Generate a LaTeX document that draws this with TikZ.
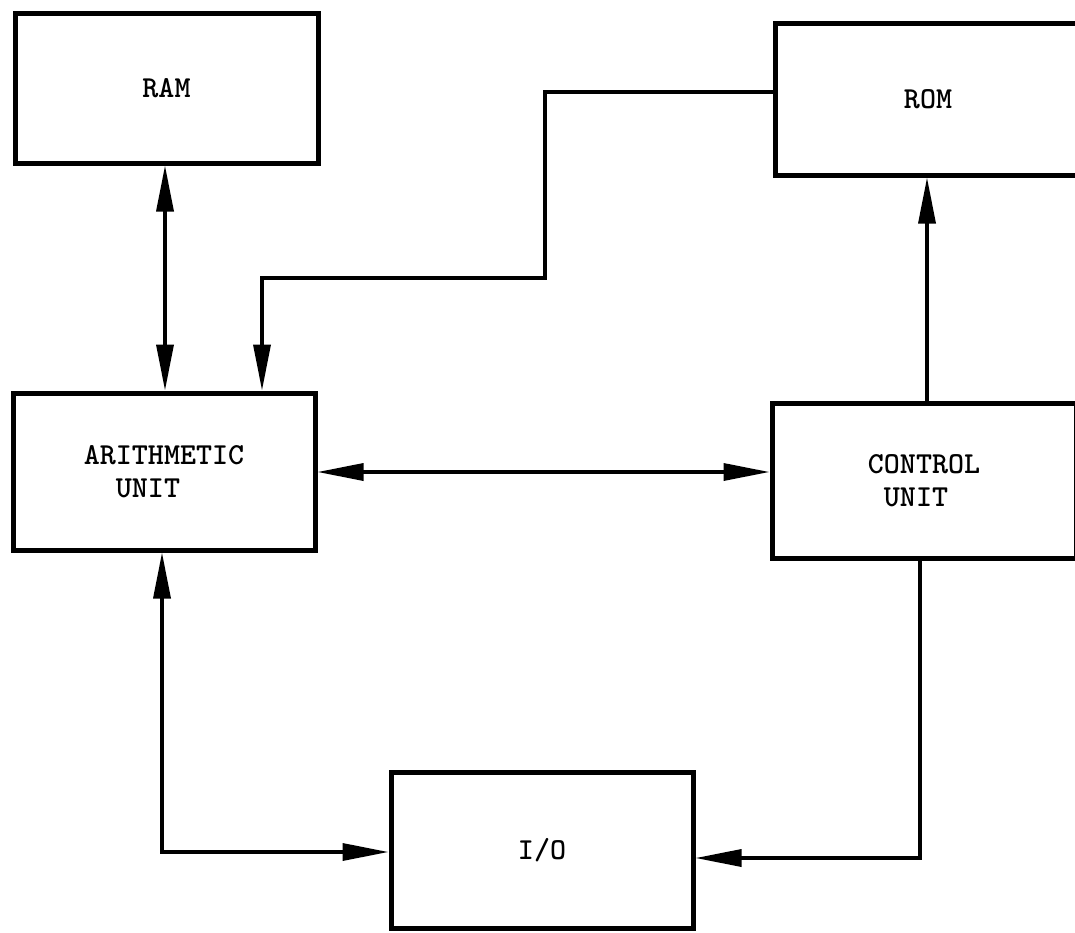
\documentclass[tikz,border=0pt]{standalone}
\usepackage{fontspec}
\usetikzlibrary{arrows.meta}
\begin{document}
\begin{tikzpicture}[x=1pt,y=-1pt,
  unitbox/.style={draw,line width=5pt,rectangle,inner sep=0pt,
    font=\fontsize{30.5}{33}\selectfont\ttfamily\bfseries,align=left},
  conn/.style={line width=3.4pt,line join=miter},
  tipend/.style={conn,-{Triangle[length=46pt,width=17pt]}},
  tipboth/.style={conn,{Triangle[length=46pt,width=17pt]}-{Triangle[length=46pt,width=17pt]}}]
\useasboundingbox (0,0) rectangle (1075,932);
\node[unitbox,minimum width=303pt,minimum height=150pt] (ram) at (166.5,88) {RAM};
\node[unitbox,minimum width=306pt,minimum height=152pt] (rom) at (928,99) {ROM};
\node[unitbox,minimum width=302pt,minimum height=157pt] (arith) at (164,471.5) {ARITHMETIC\\\phantom{AR}UNIT};
\node[unitbox,minimum width=304pt,minimum height=155pt] (control) at (924,480.5) {CONTROL\\\phantom{C}UNIT};
\node[unitbox,minimum width=302pt,minimum height=156pt] (io) at (542,850) {I/O};
\coordinate (xa) at (165,0);
\coordinate (b1) at (545,92);
\coordinate (b2) at (545,278);
\coordinate (b3) at (262,278);
\coordinate (yh) at (0,472);
\coordinate (xc) at (927,0);
\coordinate (c1) at (162,852);
\coordinate (c2) at (920,858);
\draw[tipboth] (ram.south -| xa) -- (arith.north -| xa);
\draw[tipend] (rom.west |- b1) -- (b1) -- (b2) -- (b3) -- (arith.north -| b3);
\draw[tipboth] (arith.east |- yh) -- (control.west |- yh);
\draw[tipend] (control.north -| xc) -- (rom.south -| xc);
\draw[tipboth] (arith.south -| c1) -- (c1) -- (io.west |- c1);
\draw[tipend] (control.south -| c2) -- (c2) -- (io.east |- c2);
\end{tikzpicture}
\end{document}
